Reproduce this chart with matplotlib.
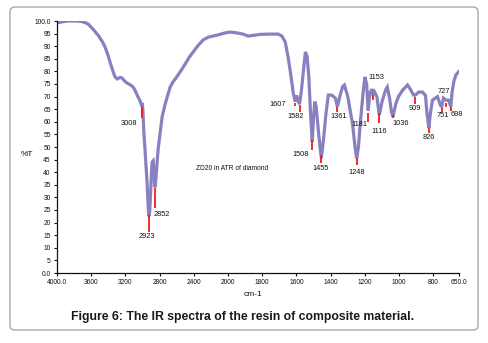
import numpy as np
import matplotlib
matplotlib.use("Agg")
import matplotlib.pyplot as plt
from matplotlib.patches import FancyBboxPatch

plt.rcParams["font.family"] = ["Liberation Sans", "DejaVu Sans"]

# spectrum (wavenumber cm-1, %T)
wavenumber = [
    3990, 3950, 3880, 3780, 3710, 3660, 3637, 3580, 3520, 3470, 3438, 3400,
    3380, 3340, 3321, 3295, 3265, 3239, 3210, 3181, 3140, 3110, 3085, 3063,
    3040, 3025, 3015, 3008, 3002, 2995, 2985, 2970, 2955, 2946, 2935, 2928,
    2923, 2915, 2905, 2895, 2888, 2876, 2866, 2858, 2852, 2845, 2830, 2818,
    2800, 2785, 2771, 2736, 2701, 2677, 2640, 2600, 2560, 2500, 2450, 2408,
    2350, 2291, 2230, 2170, 2127, 2060, 2020, 1988, 1950, 1912, 1882, 1850,
    1812, 1760, 1707, 1685, 1666, 1648, 1632, 1618, 1607, 1600, 1592, 1582,
    1572, 1560, 1548, 1538, 1528, 1519, 1508, 1500, 1493, 1485, 1470, 1455,
    1442, 1428, 1414, 1395, 1373, 1361, 1345, 1330, 1320, 1300, 1285, 1273,
    1256, 1248, 1238, 1227, 1210, 1200, 1190, 1181, 1172, 1160, 1153, 1145,
    1130, 1116, 1100, 1080, 1069, 1055, 1045, 1036, 1020, 1004, 980, 951,
    935, 916, 905, 885, 864, 846, 838, 826, 818, 805, 776, 758, 751, 741,
    727, 711, 698, 690, 680, 668, 655, 650,
]
transmittance = [
    99.3, 99.6, 100.0, 100.0, 99.8, 99.2, 98.8, 96.8, 94.4, 91.8, 89.7, 86.0,
    83.7, 79.5, 77.8, 77.0, 77.6, 77.4, 76.2, 75.4, 74.6, 73.8, 72.3, 70.6,
    69.0, 68.0, 67.0, 66.0, 67.5, 64.0, 56.0, 48.5, 40.0, 35.5, 27.0, 23.0,
    22.5, 25.0, 32.0, 40.0, 44.0, 44.5, 40.0, 35.0, 34.0, 37.0, 44.0, 49.0,
    54.0, 58.5, 62.0, 67.0, 71.0, 73.8, 76.0, 77.8, 79.8, 83.0, 85.8, 87.7,
    90.3, 92.5, 93.6, 94.1, 94.4, 95.0, 95.4, 95.6, 95.3, 94.8, 94.0, 94.3,
    94.7, 94.8, 94.8, 94.0, 91.7, 85.3, 78.0, 71.0, 68.0, 70.5, 68.5, 67.0,
    72.0, 80.0, 87.7, 86.0, 78.0, 65.0, 52.0, 62.0, 68.0, 66.0, 55.0, 45.5,
    53.0, 63.0, 70.6, 70.6, 69.4, 66.0, 70.5, 74.0, 74.6, 70.0, 64.0, 59.5,
    49.0, 45.5, 50.0, 59.5, 72.0, 77.8, 75.0, 64.5, 71.0, 73.0, 71.0, 72.0,
    70.0, 62.7, 68.0, 72.5, 73.8, 69.0, 64.0, 62.0, 67.0, 70.0, 72.5, 74.6,
    73.0, 70.6, 70.6, 71.8, 71.8, 70.5, 64.0, 57.5, 63.0, 68.6, 70.0, 66.5,
    66.0, 69.4, 68.6, 68.6, 66.0, 72.0, 76.0, 78.6, 79.6, 80.0,
]

# labelled peaks: red marker from top to bottom (%T)
peak_wn = [3008, 2923, 2852, 1607, 1582, 1508, 1455, 1361, 1248,
           1181, 1153, 1116, 1036, 909, 826, 751, 727, 698]
peak_top = [65.9, 23.0, 33.7, 67.5, 66.7, 52.8, 46.8, 65.9, 45.6,
            63.5, 70.6, 63.5, 62.7, 69.8, 57.5, 65.5, 67.5, 65.9]
peak_bottom = [61.5, 16.3, 25.8, 66.3, 63.9, 48.8, 43.7, 63.9, 42.9,
               59.9, 68.7, 59.5, 61.5, 67.1, 55.6, 63.9, 65.9, 64.3]
# label offset from marker bottom, in pixels
label_dx = [-13, -2, 7, -18, -4, -12, -1, 1, 0, -9, 3, 0, 8, 0, 0, 1, -2, 6]
label_dy = [-5, -5, -7, 1, -5, -4, -6, -5, -8, -2, 22, -8, -5, -5, -5, -4, 15, -4]

x_ticks = [4000, 3600, 3200, 2800, 2400, 2000, 1800, 1600, 1400, 1200, 1000, 800, 650]
x_tick_labels = ["4000.0", "3600", "3200", "2800", "2400", "2000", "1800",
                 "1600", "1400", "1200", "1000", "800", "650.0"]
y_ticks = list(range(0, 101, 5))
y_tick_labels = ["0.0"] + [str(v) for v in y_ticks[1:-1]] + ["100.0"]

LINE = "#8a80c0"


def _fwd(x):
    # FTIR scale: 400 cm-1 per division above 2000, 200 below
    x = np.asarray(x, dtype=float)
    return np.where(x > 2000, 2000 + (x - 2000) / 2.0, x)


def _inv(y):
    y = np.asarray(y, dtype=float)
    return np.where(y > 2000, 2000 + (y - 2000) * 2.0, y)


fig = plt.figure(figsize=(4.89, 3.43), dpi=100)
fig.patch.set_facecolor("white")

frame = FancyBboxPatch(
    (10 / 489, 1 - 330 / 343), 468 / 489, 323 / 343,
    boxstyle="round,pad=0,rounding_size=0.012",
    transform=fig.transFigure, fill=False, ec="#a9a9a9", lw=1.0,
)
fig.add_artist(frame)

ax = fig.add_axes([57 / 489, 1 - 273 / 343, 402 / 489, 252 / 343])
ax.set_xscale("function", functions=(_fwd, _inv))
ax.plot(wavenumber, transmittance, color=LINE, lw=2.3, solid_joinstyle="miter")

ax.vlines(peak_wn, peak_bottom, peak_top, color="#ee1c1c", lw=1.3)
for wn, bot, dx, dy in zip(peak_wn, peak_bottom, label_dx, label_dy):
    ax.annotate(str(wn), xy=(wn, bot), xytext=(dx, dy), textcoords="offset pixels",
                ha="center", va="center", fontsize=5.3, color="#111111")

ax.set_xlim(4000, 650)
ax.set_ylim(0, 100)
ax.set_xticks(x_ticks)
ax.set_xticklabels(x_tick_labels)
ax.set_yticks(y_ticks)
ax.set_yticklabels(y_tick_labels)
ax.minorticks_off()
ax.tick_params(axis="both", labelsize=4.8, length=2.5, width=0.8, pad=2, colors="#111111")
for side in ("top", "right"):
    ax.spines[side].set_visible(False)
for side in ("left", "bottom"):
    ax.spines[side].set_linewidth(0.9)
    ax.spines[side].set_color("#111111")
ax.set_facecolor("none")

fig.text(232 / 489, 1 - 169 / 343, "ZD20 in ATR of diamond", fontsize=4.8,
         ha="center", va="center", color="#111111")
fig.text(27 / 489, 1 - 155 / 343, "%T", fontsize=6, ha="center", va="center",
         color="#111111")
fig.text(253 / 489, 1 - 295 / 343, "cm-1", fontsize=6, ha="center", va="center",
         color="#111111")
fig.text(243 / 489, 1 - 317 / 343,
         "Figure 6: The IR spectra of the resin of composite material.",
         fontsize=8.8, fontweight="bold", ha="center", va="center", color="#1a1a1a")

fig.savefig("out.png", dpi=100)
